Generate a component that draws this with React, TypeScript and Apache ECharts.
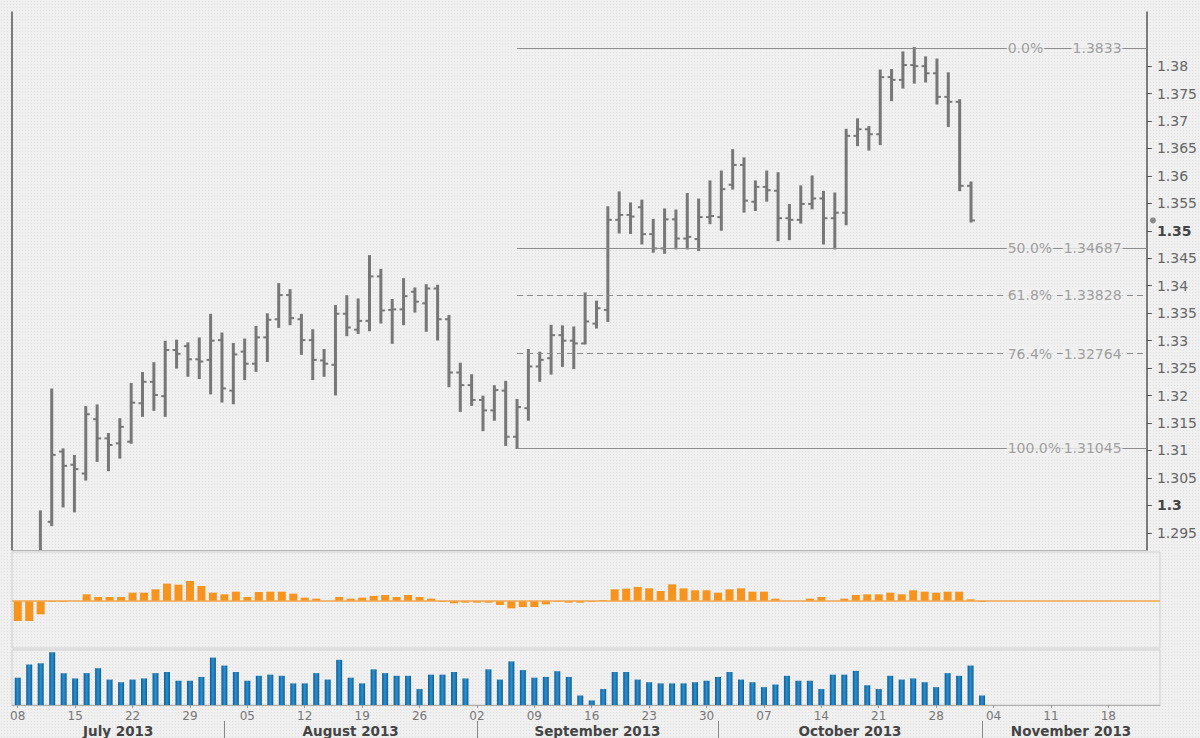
import React, { useEffect, useRef } from "react";
import * as echarts from "echarts";

// ---------- categories (trading days) ----------
const FIRST_DAY = "2013-07-08";
const DAY_COUNT = 100; // Jul 8 .. Nov 22 2013 (weekdays)
function buildTradingDays(start: string, n: number): Date[] {
  const out: Date[] = [];
  const d = new Date(start + "T00:00:00");
  while (out.length < n) {
    const wd = d.getDay();
    if (wd !== 0 && wd !== 6) out.push(new Date(d.getTime()));
    d.setDate(d.getDate() + 1);
  }
  return out;
}
const tradingDays = buildTradingDays(FIRST_DAY, DAY_COUNT);

// ---------- price data (OHLC) ----------
const opens = [
  1.2835, 1.2865, 1.2870, 1.2970, 1.3098, 1.3074, 1.3058, 1.3157, 1.3122, 1.3113,
  1.3116, 1.3186, 1.3225, 1.3199, 1.3283, 1.3290, 1.3266, 1.3265, 1.3301, 1.3209,
  1.3280, 1.3258, 1.3306, 1.3339, 1.3383, 1.3339, 1.3301, 1.3264, 1.3256, 1.3349,
  1.3320, 1.3336, 1.3417, 1.3356, 1.3357, 1.3389, 1.3368, 1.3395, 1.3339, 1.3242,
  1.3219, 1.3192, 1.3173, 1.3209, 1.3125, 1.3177, 1.3253, 1.3268, 1.3310, 1.3300,
  1.3295, 1.3331, 1.3356, 1.3520, 1.3529, 1.3543, 1.3494, 1.3468, 1.3521, 1.3486,
  1.3485, 1.3525, 1.3525, 1.3584, 1.3620, 1.3553, 1.3580, 1.3573, 1.3523, 1.3520,
  1.3549, 1.3559, 1.3523, 1.3533, 1.3673, 1.3685, 1.3676, 1.3780, 1.3775, 1.3802,
  1.3800, 1.3787, 1.3744, 1.3735, 1.3582,
];
const highs = [
  1.2900, 1.2890, 1.2989, 1.3211, 1.3102, 1.3090, 1.3179, 1.3182, 1.3130, 1.3157,
  1.3221, 1.3241, 1.3259, 1.3298, 1.3300, 1.3295, 1.3304, 1.3347, 1.3313, 1.3294,
  1.3302, 1.3325, 1.3348, 1.3403, 1.3392, 1.3347, 1.3319, 1.3283, 1.3363, 1.3381,
  1.3375, 1.3454, 1.3429, 1.3374, 1.3412, 1.3395, 1.3401, 1.3400, 1.3345, 1.3258,
  1.3237, 1.3198, 1.3217, 1.3225, 1.3192, 1.3283, 1.3278, 1.3327, 1.3326, 1.3324,
  1.3386, 1.3371, 1.3543, 1.3570, 1.3550, 1.3555, 1.3520, 1.3539, 1.3537, 1.3567,
  1.3557, 1.3590, 1.3608, 1.3647, 1.3632, 1.3590, 1.3608, 1.3605, 1.3547, 1.3581,
  1.3599, 1.3571, 1.3568, 1.3684, 1.3703, 1.3689, 1.3792, 1.3793, 1.3825, 1.3833,
  1.3816, 1.3812, 1.3787, 1.3738, 1.3588,
];
const lows = [
  1.2810, 1.2755, 1.2800, 1.2964, 1.2998, 1.2989, 1.3047, 1.3081, 1.3064, 1.3087,
  1.3114, 1.3163, 1.3174, 1.3163, 1.3251, 1.3236, 1.3232, 1.3204, 1.3189, 1.3186,
  1.3230, 1.3245, 1.3263, 1.3325, 1.3330, 1.3276, 1.3230, 1.3236, 1.3202, 1.3310,
  1.3314, 1.3319, 1.3333, 1.3296, 1.3330, 1.3353, 1.3318, 1.3302, 1.3217, 1.3172,
  1.3183, 1.3137, 1.3156, 1.3110, 1.31045, 1.3156, 1.3227, 1.3240, 1.3254, 1.3250,
  1.3295, 1.3324, 1.3336, 1.3497, 1.3496, 1.3477, 1.3462, 1.3460, 1.3468, 1.3468,
  1.3465, 1.3514, 1.3502, 1.3577, 1.3535, 1.3538, 1.3555, 1.3483, 1.3485, 1.3515,
  1.3541, 1.3477, 1.3468, 1.3512, 1.3656, 1.3648, 1.3658, 1.3738, 1.3761, 1.3770,
  1.3772, 1.3732, 1.3691, 1.3574, 1.3517,
];
const closes = [
  1.2865, 1.2870, 1.2912, 1.3092, 1.3072, 1.3066, 1.3166, 1.3122, 1.3110, 1.3143,
  1.3187, 1.3225, 1.3201, 1.3283, 1.3276, 1.3266, 1.3262, 1.3300, 1.3213, 1.3275,
  1.3258, 1.3306, 1.3338, 1.3383, 1.3341, 1.3301, 1.3265, 1.3258, 1.3349, 1.3324,
  1.3336, 1.3417, 1.3355, 1.3357, 1.3381, 1.3371, 1.3395, 1.3339, 1.3242, 1.3219,
  1.3192, 1.3173, 1.3210, 1.3125, 1.3179, 1.3253, 1.3265, 1.3310, 1.3300, 1.3295,
  1.3335, 1.3359, 1.3520, 1.3529, 1.3526, 1.3494, 1.3468, 1.3521, 1.3486, 1.3489,
  1.3525, 1.3527, 1.3576, 1.3620, 1.3555, 1.3580, 1.3574, 1.3523, 1.3520, 1.3549,
  1.3559, 1.3523, 1.3533, 1.3673, 1.3685, 1.3676, 1.3780, 1.3775, 1.3802, 1.3800,
  1.3787, 1.3744, 1.3735, 1.3582, 1.3519,
];

// ---------- indicator panels ----------
const oscillator = [
  -60, -60, -40, -3, -3, 0, 20, 12, 12, 12,
  25, 25, 35, 52, 49, 60, 45, 25, 20, 28,
  12, 27, 28, 28, 22, 10, 7, 0, 12, 7,
  10, 15, 18, 12, 18, 12, 7, -3, -7, -5,
  -5, -5, -12, -22, -18, -18, -10, -3, -5, -5,
  -3, 3, 35, 37, 42, 38, 30, 50, 38, 32,
  32, 25, 35, 38, 28, 28, 7, 0, 0, 7,
  12, 0, 7, 18, 20, 20, 25, 20, 32, 28,
  25, 28, 28, 5, -3,
];
const volume = [
  72, 107, 110, 139, 84, 70, 84, 97, 67, 60,
  67, 70, 84, 87, 64, 64, 74, 125, 104, 87,
  64, 77, 80, 77, 57, 57, 84, 67, 119, 72,
  57, 94, 84, 77, 77, 42, 80, 80, 87, 70,
  0, 94, 67, 115, 92, 72, 74, 89, 74, 25,
  12, 42, 87, 87, 67, 60, 57, 57, 57, 60,
  64, 74, 87, 67, 60, 47, 54, 77, 64, 64,
  42, 80, 80, 90, 52, 42, 77, 67, 70, 60,
  47, 84, 77, 104, 25,
];

// ---------- axis ticks / Fibonacci ----------
const priceTicks = [
  1.295, 1.3, 1.305, 1.31, 1.315, 1.32, 1.325, 1.33, 1.335, 1.34,
  1.345, 1.35, 1.355, 1.36, 1.365, 1.37, 1.375, 1.38,
];
const priceMin = 1.29187;
const priceMax = 1.38986;
const fibPercents = ["0.0%", "50.0%", "61.8%", "76.4%", "100.0%"];
const fibLevels = [1.3833, 1.34687, 1.33828, 1.32764, 1.31045];
const fibPriceText = ["1.3833", "1.34687", "1.33828", "1.32764", "1.31045"];
const fibDashed = [false, false, true, true, false];
const fibStartIndex = 44;
const fibPercentAnchor = 87.1;
const fibPriceAnchor = 97.4;
const monthNames = [
  "January", "February", "March", "April", "May", "June", "July",
  "August", "September", "October", "November", "December",
];

const BG = "#f0f0f0";
const FONT = "'DejaVu Sans', Verdana, sans-serif";
const TRANSPARENT = "rgba(0,0,0,0)";

export default function App() {
  const ref = useRef<HTMLDivElement>(null);

  useEffect(() => {
    if (!ref.current) return;
    const chart = echarts.init(ref.current, undefined, { renderer: "svg" });

    const xMin = -0.5;
    const xMax = DAY_COUNT - 0.5;

    const mondays: number[] = [];
    const monthStarts: number[] = [];
    tradingDays.forEach((d, i) => {
      if (d.getDay() === 1) mondays.push(i);
      if (i > 0 && d.getMonth() !== tradingDays[i - 1].getMonth()) monthStarts.push(i);
    });
    const bounds = [xMin, ...monthStarts, xMax];
    const monthCenters: number[] = [];
    const monthLabelMap: Record<string, string> = {};
    for (let k = 0; k < bounds.length - 1; k++) {
      const c = (bounds[k] + bounds[k + 1]) / 2;
      monthCenters.push(c);
      const idx = k === 0 ? 0 : monthStarts[k - 1];
      const d = tradingDays[idx];
      monthLabelMap[c.toFixed(3)] = monthNames[d.getMonth()] + " " + d.getFullYear();
    }

    const ohlc = opens.map((o, i) => [i, o, highs[i], lows[i], closes[i]]);
    const oscData = oscillator.map((v, i) => [i, v]);
    const volData = volume.map((v, i) => [i, v]);
    const lastIndex = closes.length - 1;

    const fibLines = fibLevels.map((lvl, k) => [
      {
        coord: [fibStartIndex, lvl],
        lineStyle: { color: "#8c8c8c", width: 1, type: fibDashed[k] ? [6, 4] : "solid" },
      },
      { coord: [xMax, lvl] },
    ]);

    const hiddenX = (gridIndex: number) => ({
      type: "value",
      gridIndex,
      min: xMin,
      max: xMax,
      axisLine: { show: false, onZero: false },
      axisTick: { show: false },
      axisLabel: { show: false },
      splitLine: { show: false },
    });

    const fibLabelStyle = {
      show: true,
      distance: 0,
      color: "#8a8a8a",
      fontSize: 14,
      fontFamily: FONT,
      backgroundColor: BG,
      padding: [0, 1],
    };

    const option: any = {
      animation: false,
      backgroundColor: "transparent",
      textStyle: { fontFamily: FONT },
      grid: [
        { left: 12, right: 40, top: 12, height: 538 },
        { left: 12, right: 40, top: 552, height: 96, show: true, borderColor: "#cfcfcf", borderWidth: 1 },
        { left: 12, right: 40, top: 650, height: 55, show: true, borderColor: "#cfcfcf", borderWidth: 1 },
      ],
      xAxis: [
        {
          ...hiddenX(0),
          axisLine: { show: true, onZero: false, lineStyle: { color: "#b5b5b5", width: 1 } },
        },
        hiddenX(1),
        {
          type: "value",
          gridIndex: 2,
          min: xMin,
          max: xMax,
          position: "bottom",
          axisLine: { show: true, onZero: false, lineStyle: { color: "#b0b0b0" } },
          axisTick: { show: true, customValues: mondays, length: 3, lineStyle: { color: "#999" } },
          axisLabel: {
            show: true,
            customValues: mondays,
            margin: 5,
            color: "#777",
            fontSize: 12,
            fontFamily: FONT,
            formatter: (v: number) => {
              const d = tradingDays[Math.round(v)];
              return d ? String(d.getDate()).padStart(2, "0") : "";
            },
          },
          splitLine: { show: false },
        },
        {
          type: "value",
          gridIndex: 2,
          min: xMin,
          max: xMax,
          position: "bottom",
          offset: 16,
          axisLine: { show: false, onZero: false },
          axisTick: { show: true, customValues: monthStarts, length: 17, lineStyle: { color: "#888", width: 1 } },
          axisLabel: {
            show: true,
            customValues: monthCenters,
            margin: 3,
            color: "#444",
            fontWeight: "bold",
            fontSize: 13.5,
            fontFamily: FONT,
            formatter: (v: number) => monthLabelMap[v.toFixed(3)] || "",
          },
          splitLine: { show: false },
        },
      ],
      yAxis: [
        {
          type: "value",
          gridIndex: 0,
          position: "right",
          min: priceMin,
          max: priceMax,
          axisLine: { show: true, onZero: false, lineStyle: { color: "#555", width: 1.5 } },
          axisTick: { show: true, customValues: priceTicks, length: 5, lineStyle: { color: "#555" } },
          axisLabel: {
            show: true,
            customValues: priceTicks,
            margin: 10,
            color: "#666",
            fontSize: 14,
            fontFamily: FONT,
            formatter: (v: number) => {
              const s = String(Number(v.toFixed(3)));
              const major = Math.abs(Math.round(v * 20) - v * 20) < 1e-6;
              return major ? "{b|" + s + "}" : s;
            },
            rich: { b: { fontWeight: "bold", color: "#444", fontSize: 14, fontFamily: FONT } },
          },
          splitLine: { show: false },
        },
        {
          type: "value",
          gridIndex: 0,
          position: "left",
          min: priceMin,
          max: priceMax,
          axisLine: { show: true, onZero: false, lineStyle: { color: "#555", width: 1.5 } },
          axisTick: { show: false },
          axisLabel: { show: false },
          splitLine: { show: false },
        },
        {
          type: "value",
          gridIndex: 1,
          min: -141,
          max: 147,
          axisLine: { show: false, onZero: false },
          axisTick: { show: false },
          axisLabel: { show: false },
          splitLine: { show: false },
        },
        {
          type: "value",
          gridIndex: 2,
          min: 0,
          max: 145,
          axisLine: { show: false, onZero: false },
          axisTick: { show: false },
          axisLabel: { show: false },
          splitLine: { show: false },
        },
      ],
      series: [
        {
          name: "EUR/USD",
          type: "custom",
          xAxisIndex: 0,
          yAxisIndex: 0,
          clip: true,
          data: ohlc,
          encode: { x: 0, y: [1, 2, 3, 4] },
          renderItem: (params: any, api: any) => {
            const i = api.value(0);
            const pH = api.coord([i, api.value(2)]);
            const pL = api.coord([i, api.value(3)]);
            const pO = api.coord([i, api.value(1)]);
            const pC = api.coord([i, api.value(4)]);
            const stroke = "#777777";
            const w = 4;
            return {
              type: "group",
              children: [
                { type: "line", shape: { x1: pH[0], y1: pH[1] - 1, x2: pL[0], y2: pL[1] + 1 }, style: { stroke, lineWidth: 3 } },
                { type: "line", shape: { x1: pO[0] - w, y1: pO[1], x2: pO[0], y2: pO[1] }, style: { stroke, lineWidth: 2 } },
                { type: "line", shape: { x1: pC[0], y1: pC[1], x2: pC[0] + w, y2: pC[1] }, style: { stroke, lineWidth: 2 } },
              ],
            };
          },
          markLine: {
            silent: true,
            symbol: "none",
            label: { show: false },
            data: fibLines,
          },
          z: 3,
        },
        {
          name: "lastPrice",
          type: "scatter",
          xAxisIndex: 0,
          yAxisIndex: 0,
          symbol: "circle",
          symbolSize: 6,
          symbolOffset: [6, 0],
          silent: true,
          clip: false,
          itemStyle: { color: "#6f6f6f" },
          data: [[xMax, closes[lastIndex]]],
          z: 6,
        },
        {
          name: "fibPercent",
          type: "scatter",
          xAxisIndex: 0,
          yAxisIndex: 0,
          symbolSize: 1,
          itemStyle: { color: TRANSPARENT },
          silent: true,
          data: fibLevels.map((lvl, k) => ({ value: [fibPercentAnchor, lvl], name: fibPercents[k] })),
          label: { ...fibLabelStyle, position: "right", formatter: (p: any) => p.name },
          z: 5,
        },
        {
          name: "fibPrice",
          type: "scatter",
          xAxisIndex: 0,
          yAxisIndex: 0,
          symbolSize: 1,
          itemStyle: { color: TRANSPARENT },
          silent: true,
          data: fibLevels.map((lvl, k) => ({ value: [fibPriceAnchor, lvl], name: fibPriceText[k] })),
          label: { ...fibLabelStyle, position: "left", formatter: (p: any) => p.name },
          z: 5,
        },
        {
          name: "Oscillator",
          type: "bar",
          xAxisIndex: 1,
          yAxisIndex: 2,
          barWidth: 8,
          data: oscData,
          itemStyle: { color: "#f7941d" },
          markLine: {
            silent: true,
            symbol: "none",
            label: { show: false },
            lineStyle: { color: "#f3a650", width: 1.5, type: "solid" },
            data: [{ yAxis: 0 }],
          },
        },
        {
          name: "Volume",
          type: "bar",
          xAxisIndex: 2,
          yAxisIndex: 3,
          barWidth: 6,
          data: volData,
          itemStyle: {
            color: new echarts.graphic.LinearGradient(0, 0, 1, 0, [
              { offset: 0, color: "#0e5f95" },
              { offset: 0.5, color: "#2b8fd2" },
              { offset: 1, color: "#0e5f95" },
            ]),
          },
        },
      ],
    };

    chart.setOption(option);
    return () => chart.dispose();
  }, []);

  return (
    <div
      ref={ref}
      style={{
        position: "fixed",
        left: 0,
        top: 0,
        width: 1200,
        height: 738,
        backgroundColor: BG,
        backgroundImage: "radial-gradient(circle, #dedede 0.7px, transparent 0.9px)",
        backgroundSize: "3px 3px",
      }}
    />
  );
}
